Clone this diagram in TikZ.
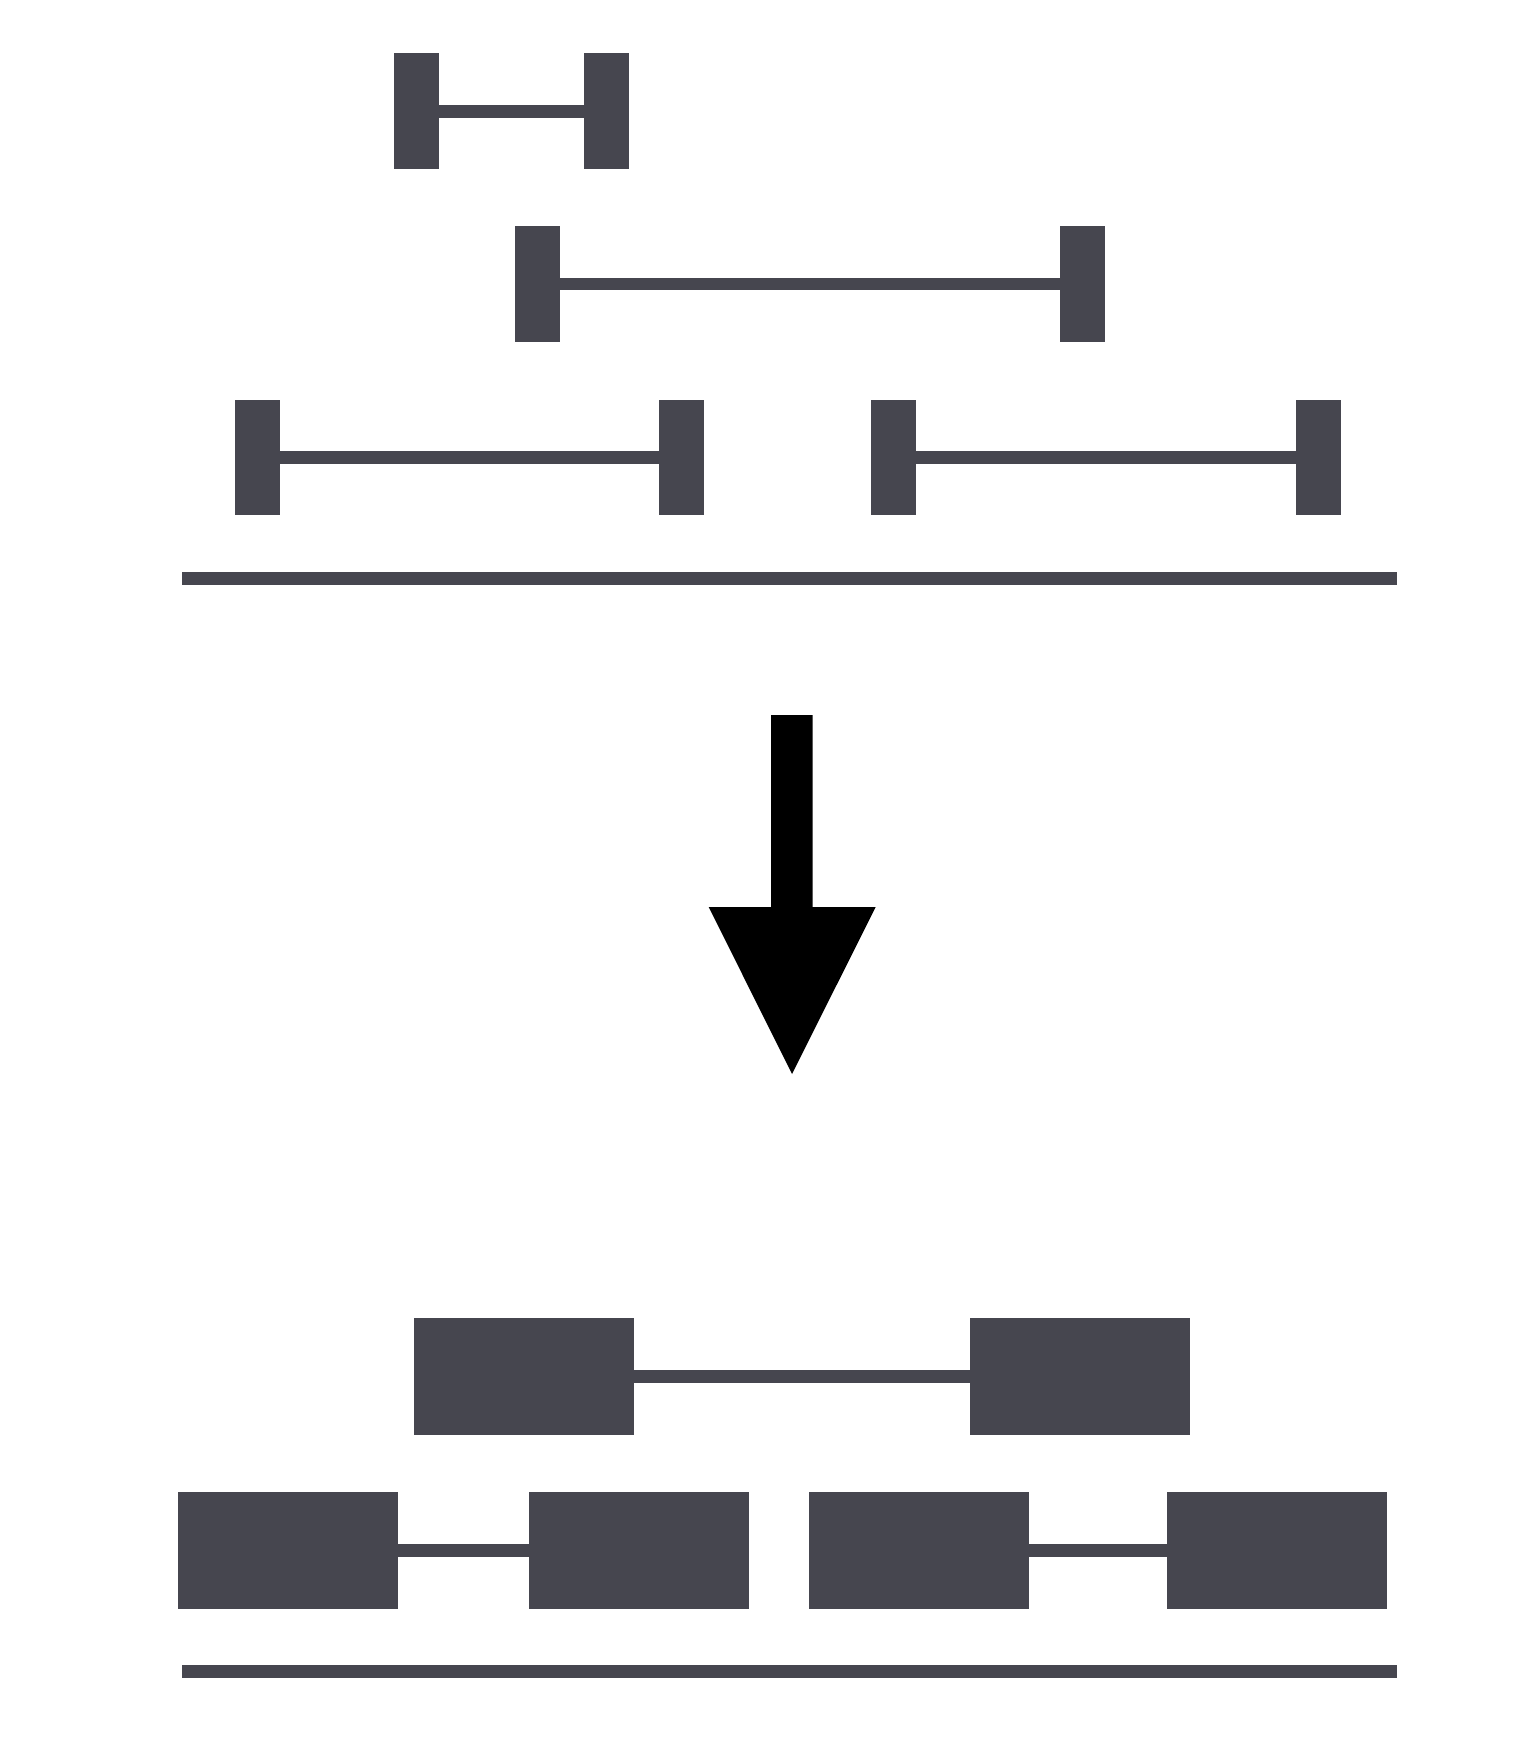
\documentclass[tikz,border=0pt]{standalone}
\definecolor{ink}{RGB}{70,70,79}
\begin{document}
\begin{tikzpicture}[x=0.5pt,y=-0.5pt,
  endcap/.style={draw=none,fill=ink,inner sep=0pt,outer sep=0pt,minimum width=22.5pt,minimum height=57.7pt},
  blk/.style={draw=none,fill=ink,inner sep=0pt,outer sep=0pt,minimum width=110pt,minimum height=58.2pt},
  bar/.style={draw=ink,line width=6.4pt,line cap=butt},
  base/.style={fill=ink,draw=none}]
\useasboundingbox (0,0) rectangle (1540,1760);
% top row 1
\node[endcap] (a1) at (416.5,111.2) {};
\node[endcap] (a2) at (606,111.2) {};
\draw[bar] (a1.east) -- (a2.west);
% row 2
\node[endcap] (b1) at (537.8,284) {};
\node[endcap] (b2) at (1082.8,284) {};
\draw[bar] (b1.east) -- (b2.west);
% row 3
\node[endcap] (c1) at (257.3,457.2) {};
\node[endcap] (c2) at (681,457.2) {};
\node[endcap] (c3) at (893.2,457.2) {};
\node[endcap] (c4) at (1318.5,457.2) {};
\draw[bar] (c1.east) -- (c2.west);
\draw[bar] (c3.east) -- (c4.west);
% baseline 1
\fill[base] (182.3,572.3) rectangle (1397.3,584.7);
% arrow
\fill[black] (771,715) -- (812.7,715) -- (812.7,907) -- (875.7,907) -- (792,1074) -- (708.7,907) -- (771,907) -- cycle;
% bottom row A
\node[blk] (d1) at (524,1376.3) {};
\node[blk] (d2) at (1079.5,1376.3) {};
\draw[bar] (d1.east) -- (d2.west);
% bottom row B
\node[blk] (e1) at (288,1550.3) {};
\node[blk] (e2) at (639,1550.3) {};
\node[blk] (e3) at (919,1550.3) {};
\node[blk] (e4) at (1276.5,1550.3) {};
\draw[bar] (e1.east) -- (e2.west);
\draw[bar] (e3.east) -- (e4.west);
% baseline 2
\fill[base] (182.3,1665) rectangle (1397.3,1677.7);
\end{tikzpicture}
\end{document}
